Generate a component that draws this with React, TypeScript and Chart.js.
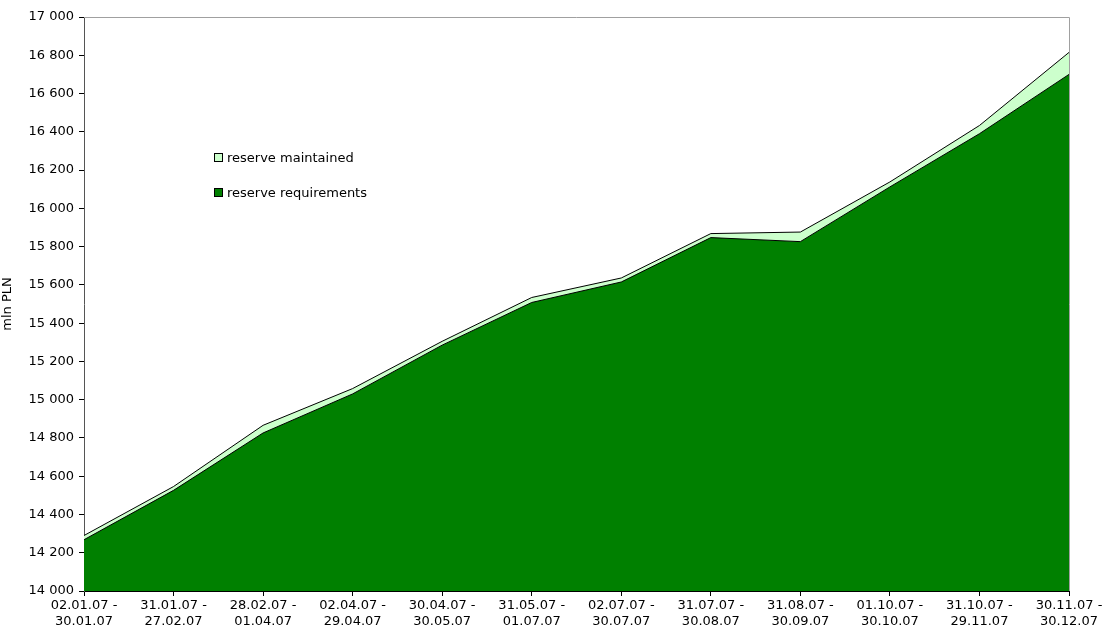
import React, { useEffect, useRef } from "react";
import { Chart, registerables } from "chart.js";

Chart.register(...registerables);

const periodStarts = ["02.01.07", "31.01.07", "28.02.07", "02.04.07", "30.04.07", "31.05.07", "02.07.07", "31.07.07", "31.08.07", "01.10.07", "31.10.07", "30.11.07"];
const periodEnds = ["30.01.07", "27.02.07", "01.04.07", "29.04.07", "30.05.07", "01.07.07", "30.07.07", "30.08.07", "30.09.07", "30.10.07", "29.11.07", "30.12.07"];
const reserveRequirements = [14268, 14526, 14826, 15030, 15285, 15508, 15615, 15847, 15826, 16112, 16390, 16700];
const reserveMaintained = [14290, 14546, 14866, 15058, 15305, 15534, 15636, 15868, 15876, 16138, 16433, 16815];
const yMin = 14000;
const yMax = 17000;
const yStep = 200;

const FONT = "'DejaVu Sans', Verdana, sans-serif";
const FS = 13;

const frame = {
  id: "frame",
  afterDatasetsDraw(chart: any) {
    const { ctx, chartArea } = chart;
    ctx.save();
    ctx.strokeStyle = "#a0a0a0";
    ctx.lineWidth = 1;
    ctx.beginPath();
    ctx.moveTo(chartArea.left, chartArea.top + 0.5);
    ctx.lineTo(chartArea.right + 0.5, chartArea.top + 0.5);
    ctx.lineTo(chartArea.right + 0.5, chartArea.bottom);
    ctx.stroke();
    ctx.restore();
  },
};

export default function App() {
  const ref = useRef<HTMLCanvasElement>(null);
  useEffect(() => {
    const labels = periodStarts.map((s, i) => [s + " -", periodEnds[i]]);
    const chart = new Chart(ref.current!, {
      type: "line",
      data: {
        labels,
        datasets: [
          {
            label: "reserve requirements",
            data: reserveRequirements,
            borderColor: "#000000",
            borderWidth: 1,
            backgroundColor: "#008000",
            fill: "start",
            pointRadius: 0,
            tension: 0,
          },
          {
            label: "reserve maintained",
            data: reserveMaintained,
            borderColor: "#000000",
            borderWidth: 1,
            backgroundColor: "#ccffcc",
            fill: "start",
            pointRadius: 0,
            tension: 0,
          },
        ],
      },
      options: {
        animation: false,
        responsive: false,
        devicePixelRatio: 1,
        layout: { padding: { left: 0, right: 37, top: 17, bottom: 0 } },
        plugins: {
          legend: { display: false },
          tooltip: { enabled: false },
        },
        scales: {
          x: {
            offset: false,
            grid: {
              display: true,
              drawOnChartArea: false,
              drawTicks: true,
              tickLength: 5,
              color: "#000000",
            },
            border: { color: "#000000", width: 1 },
            ticks: {
              color: "#000000",
              font: { family: FONT, size: FS, lineHeight: 1.2 },
              maxRotation: 0,
              autoSkip: false,
              padding: 2,
            },
            afterFit: (s: any) => {
              s.height = 42;
            },
          },
          y: {
            min: yMin,
            max: yMax,
            grid: {
              display: true,
              drawOnChartArea: false,
              drawTicks: true,
              tickLength: 5,
              color: "#000000",
            },
            border: { color: "#555555", width: 1 },
            ticks: {
              stepSize: yStep,
              color: "#000000",
              font: { family: FONT, size: FS },
              padding: 5,
              callback: (v: any) => String(v).replace(/\B(?=(\d{3})+(?!\d))/g, " "),
            },
            title: {
              display: true,
              text: "mln PLN",
              color: "#000000",
              font: { family: FONT, size: FS },
              padding: { top: 0, bottom: 0 },
            },
            afterFit: (s: any) => {
              s.width = 84;
            },
          },
        },
      },
      plugins: [frame],
    });
    return () => chart.destroy();
  }, []);

  const legendItem = (color: string, text: string, top: number) => (
    <div style={{ position: "absolute", left: 214, top, display: "flex", alignItems: "center", font: `${FS}px ${FONT}`, color: "#000" }}>
      <span style={{ display: "inline-block", width: 7, height: 7, background: color, border: "1px solid #000", marginRight: 4 }} />
      <span>{text}</span>
    </div>
  );

  return (
    <div style={{ position: "fixed", left: 0, top: 0, width: 1106, height: 633, background: "#fff" }}>
      <canvas ref={ref} width={1106} height={633} style={{ display: "block" }} />
      {legendItem("#ccffcc", "reserve maintained", 150)}
      {legendItem("#008000", "reserve requirements", 185)}
    </div>
  );
}
